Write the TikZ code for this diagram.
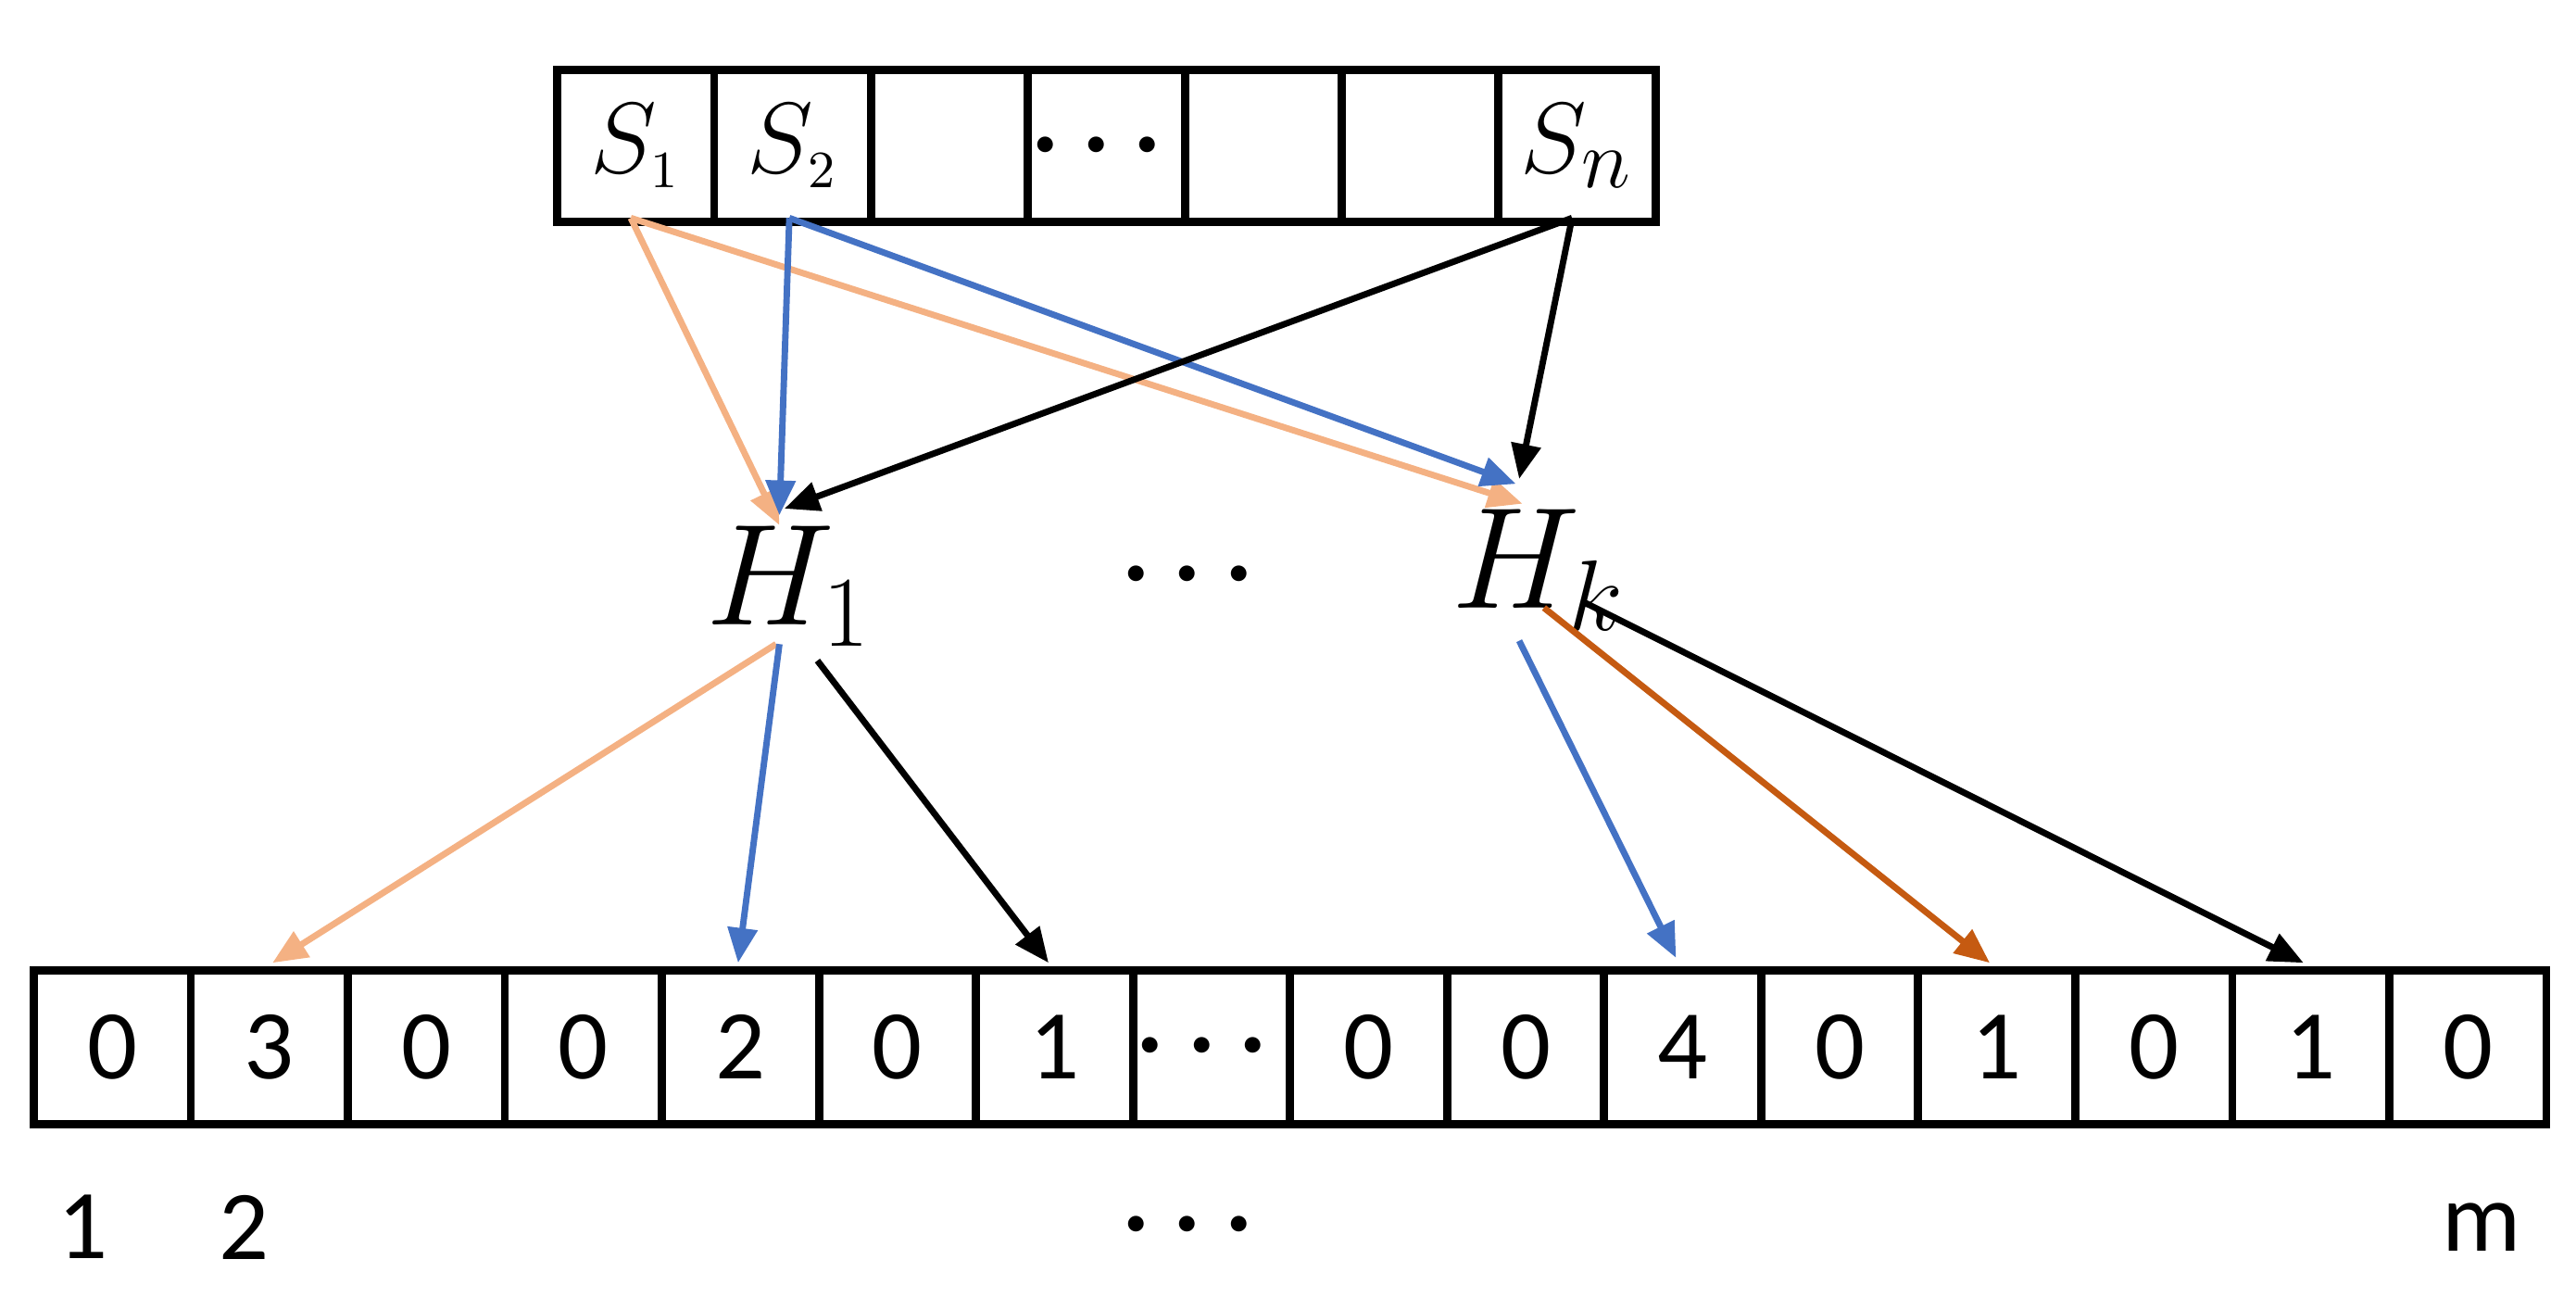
\documentclass[tikz,border=0pt]{standalone}
\usepackage{amsmath}
\usepackage{fontspec}
\setmainfont{Carlito}
\usetikzlibrary{arrows.meta}
\definecolor{peach}{HTML}{F4B183}
\definecolor{bl}{HTML}{4472C4}
\definecolor{br}{HTML}{C55A11}
\begin{document}
\begin{tikzpicture}[x=0.01cm,y=-0.01cm,
 cell/.style={draw,line width=1.4pt,minimum width=0.95cm,minimum height=0.93cm,inner sep=0,font=\fontsize{17}{17}\selectfont,anchor=north west},
 tcell/.style={cell,minimum height=0.92cm},
 ar/.style={line width=1.1pt,-{Triangle[length=6pt,width=5pt]}},
 lab/.style={font=\fontsize{17}{17}\selectfont}]
\useasboundingbox (0,0) rectangle (1560,785);
% top row
\foreach \i/\t in {0/{$S_{\scriptscriptstyle 1}$},1/{$S_{\scriptscriptstyle 2}$},2/{},3/{$\boldsymbol\cdots$},4/{},5/{},6/{$S_n$}}
  \node[tcell,font=\fontsize{19}{19}\selectfont] (t\i) at (335+95*\i,40) {\t};
% bottom row
\foreach \i/\t in {0/0,1/3,2/0,3/0,4/2,5/0,6/1,7/{$\boldsymbol\cdots$},8/0,9/0,10/4,11/0,12/1,13/0,14/1,15/0}
  \node[cell] (b\i) at (18+95.1*\i,585) {\t};
\node[font=\fontsize{26}{26}\selectfont] (h1) at (478,355) {$H_{1}$};
\node[font=\fontsize{26}{26}\selectfont] (hk) at (932,345) {$H_{k}$};
\node[lab] (d1) at (725,348) {$\boldsymbol\cdots$};
\node[lab] (i1) at (50,743) {1};
\node[lab] (i2) at (148,743) {2};
\node[lab] (d2) at (725,742) {$\boldsymbol\cdots$};
\node[lab] (im) at (1503,743) {m};
% coordinates
\coordinate (s1) at (382,132); \coordinate (s2) at (478,132); \coordinate (sn) at (952,132);
\coordinate (h1a) at (472,318); \coordinate (hka) at (922,305);
\coordinate (h1b) at (472,312); \coordinate (hkb) at (918,293);
\coordinate (h1c) at (475,308); \coordinate (hkc) at (920,290);
\draw[ar,peach] (s1) -- (h1a);
\draw[ar,peach] (s1) -- (hka);
\draw[ar,bl] (s2) -- (h1b);
\draw[ar,bl] (s2) -- (hkb);
\draw[ar,black] (sn) -- (h1c);
\draw[ar,black] (sn) -- (hkc);
\coordinate (o1) at (470,390); \coordinate (o2) at (472,390); \coordinate (o3) at (495,400);
\coordinate (p1) at (920,388); \coordinate (p2) at (935,368); \coordinate (p3) at (960,365);
\coordinate (q1) at (165,583); \coordinate (q2) at (447,583); \coordinate (q3) at (635,583);
\coordinate (r1) at (1015,580); \coordinate (r2) at (1205,583); \coordinate (r3) at (1395,583);
\draw[ar,peach] (o1) -- (q1);
\draw[ar,bl] (o2) -- (q2);
\draw[ar,black] (o3) -- (q3);
\draw[ar,bl] (p1) -- (r1);
\draw[ar,br] (p2) -- (r2);
\draw[ar,black] (p3) -- (r3);
\end{tikzpicture}
\end{document}
